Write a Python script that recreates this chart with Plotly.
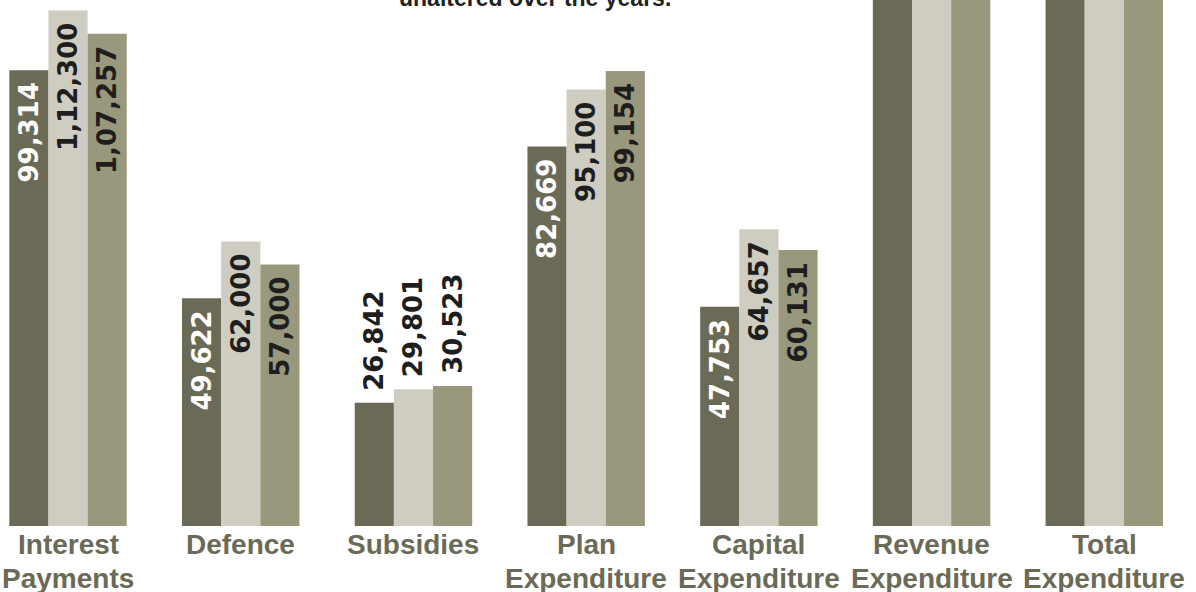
import plotly.graph_objects as go

categories = ["Interest Payments", "Defence", "Subsidies", "Plan Expenditure",
              "Capital Expenditure", "Revenue Expenditure", "Total Expenditure"]
series_names = ["2000-01", "2001-02 BE", "2001-02 RE"]
values_a = [99314, 49622, 26842, 82669, 47753, 277839, 325592]
values_b = [112300, 62000, 29801, 95100, 64657, 310566, 375223]
values_c = [107257, 57000, 30523, 99154, 60131, 302179, 362310]
title_text = "unaltered over the years."

colors = ["#6b6a57", "#cfcdc2", "#9a987c"]
text_colors = ["#ffffff", "#1e1e1e", "#1e1e1e"]


def indian(n):
    s = str(int(n))
    if len(s) <= 3:
        return s
    head, tail = s[:-3], s[-3:]
    parts = []
    while len(head) > 2:
        parts.insert(0, head[-2:])
        head = head[:-2]
    if head:
        parts.insert(0, head)
    return ",".join(parts) + "," + tail


NB = "\u00a0"
YMAX = 114600

fig = go.Figure()
for name, vals, col, tcol in zip(series_names, [values_a, values_b, values_c], colors, text_colors):
    texts, pos = [], []
    for v in vals:
        if v > YMAX:
            texts.append("")
            pos.append("none")
        elif v < 35000:
            texts.append(NB + indian(v))
            pos.append("outside")
        else:
            texts.append(indian(v) + NB)
            pos.append("inside")
    fig.add_trace(go.Bar(
        x=categories, y=vals, name=name, marker=dict(color=col, line=dict(width=0)),
        text=texts, textposition=pos, textangle=-90,
        insidetextanchor="end", constraintext="none",
        insidetextfont=dict(family="DejaVu Sans", size=26, color=tcol, weight="bold"),
        outsidetextfont=dict(family="DejaVu Sans", size=26, color="#1e1e1e", weight="bold"),
        cliponaxis=False, hoverinfo="skip",
    ))

label_font = "Liberation Sans, Arial, sans-serif"
annotations = []
for c in categories:
    parts = c.split(" ", 1)
    for i, line in enumerate(parts):
        annotations.append(dict(
            x=c, xref="x", y=0, yref="paper", yanchor="middle", xanchor="center",
            yshift=-18 - 34 * i, text=line, showarrow=False,
            font=dict(family=label_font, size=28, color="#6b6a57", weight="bold"),
        ))
annotations.append(dict(
    x=535 / 1196, xref="paper", y=1, yref="paper", xanchor="center",
    yanchor="bottom", yshift=-13, text=title_text, showarrow=False,
    font=dict(family="Liberation Sans, Arial", size=23, color="#222222", weight="bold"),
))

fig.update_layout(
    width=1196, height=592,
    margin=dict(l=0, r=0, t=0, b=66),
    barmode="group", bargap=0.32, bargroupgap=0,
    showlegend=False,
    plot_bgcolor="white", paper_bgcolor="white",
    xaxis=dict(range=[-0.394, 6.531], showticklabels=False, showgrid=False,
               zeroline=False, showline=False, ticks=""),
    yaxis=dict(range=[0, YMAX], visible=False, showgrid=False, zeroline=False),
    annotations=annotations,
)

fig.write_html("out.html")
